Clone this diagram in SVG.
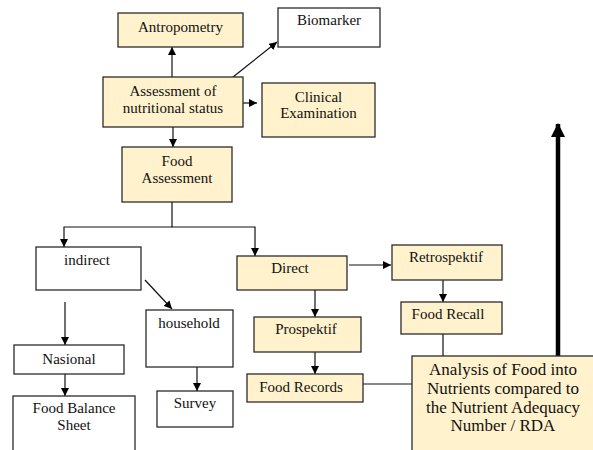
<svg xmlns="http://www.w3.org/2000/svg" width="593" height="450" viewBox="0 0 593 450" font-family="Liberation Serif, DejaVu Serif, serif">
<style>
.b{fill:#FFF2CC;stroke:#2b2b2b;stroke-width:1.3}
.w{fill:#fff;stroke:#2b2b2b;stroke-width:1.3}
text{font-family:'Liberation Serif','DejaVu Serif',serif;font-size:15px;fill:#111;text-anchor:middle}
.big{font-size:17px}
.c{fill:none;stroke:#111;stroke-width:1.2}
</style>
<defs>
<marker id="ah" markerWidth="8" markerHeight="8" refX="8" refY="4" orient="auto" markerUnits="userSpaceOnUse">
<path d="M0,0 L8,4 L0,8 Z" fill="#000"/>
</marker>
<marker id="bh" markerWidth="14" markerHeight="14" refX="13" refY="7" orient="auto" markerUnits="userSpaceOnUse">
<path d="M0,0 L14,7 L0,14 Z" fill="#000"/>
</marker>
</defs>
<rect width="593" height="450" fill="#fff"/>
<g id="connectors">
<line class="c" x1="172" y1="77" x2="172" y2="47" marker-end="url(#ah)"/>
<line class="c" x1="233" y1="77" x2="277" y2="42" marker-end="url(#ah)"/>
<line class="c" x1="233" y1="103" x2="257" y2="103" marker-end="url(#ah)"/>
<line class="c" x1="173" y1="127" x2="173" y2="147" marker-end="url(#ah)"/>
<polyline class="c" points="172,202 172,227 64,227 64,247" marker-end="url(#ah)"/>
<polyline class="c" points="172,227 255,227 255,256" marker-end="url(#ah)"/>
<line class="c" x1="349" y1="265" x2="391" y2="265" marker-end="url(#ah)"/>
<line class="c" x1="443" y1="280" x2="443" y2="302" marker-end="url(#ah)"/>
<line class="c" x1="443" y1="334" x2="443" y2="356"/>
<line class="c" x1="315" y1="290" x2="315" y2="317" marker-end="url(#ah)"/>
<line class="c" x1="315" y1="352" x2="315" y2="374" marker-end="url(#ah)"/>
<line class="c" x1="363" y1="384" x2="412" y2="384"/>
<line class="c" x1="65" y1="302" x2="65" y2="345" marker-end="url(#ah)"/>
<line class="c" x1="65" y1="374" x2="65" y2="396" marker-end="url(#ah)"/>
<line class="c" x1="145" y1="280" x2="172" y2="309" marker-end="url(#ah)"/>
<line class="c" x1="197" y1="367" x2="197" y2="391" marker-end="url(#ah)"/>
<line x1="558" y1="356" x2="558" y2="124" stroke="#000" stroke-width="4.5" marker-end="url(#bh)"/>
</g>
<g id="antropometry"><rect class="b" x="118" y="13" width="125" height="34"/><text x="180.5" y="32">Antropometry</text></g>
<g id="biomarker"><rect class="w" x="278" y="8" width="102" height="39"/><text x="329" y="25">Biomarker</text></g>
<g id="assessment"><rect class="b" x="103" y="77" width="140" height="50"/><text x="173" y="96">Assessment of</text><text x="173" y="113">nutritional status</text></g>
<g id="clinical"><rect class="b" x="262" y="83" width="113" height="54"/><text x="318.5" y="102">Clinical</text><text x="318.5" y="118">Examination</text></g>
<g id="food-assessment"><rect class="b" x="122" y="147" width="110" height="55"/><text x="177" y="166">Food</text><text x="177" y="183">Assessment</text></g>
<g id="indirect"><rect class="w" x="36" y="247" width="105" height="43"/><text x="87" y="265">indirect</text></g>
<g id="direct"><rect class="b" x="237" y="256" width="110" height="34"/><text x="290" y="273">Direct</text></g>
<g id="retrospektif"><rect class="b" x="392" y="245" width="110" height="35"/><text x="446" y="262">Retrospektif</text></g>
<g id="food-recall"><rect class="b" x="401" y="302" width="101" height="32"/><text x="448" y="319">Food Recall</text></g>
<g id="prospektif"><rect class="b" x="254" y="317" width="107" height="35"/><text x="306" y="334">Prospektif</text></g>
<g id="food-records"><rect class="b" x="247" y="374" width="116" height="28"/><text x="301" y="392">Food Records</text></g>
<g id="analysis"><rect class="b" x="412" y="356" width="184" height="100"/><text class="big" x="503" y="375">Analysis of Food into</text><text class="big" x="503" y="394">Nutrients compared to</text><text class="big" x="503" y="413">the Nutrient Adequacy</text><text class="big" x="503" y="431">Number / RDA</text></g>
<g id="nasional"><rect class="w" x="14" y="345" width="110" height="29"/><text x="69" y="364">Nasional</text></g>
<g id="food-balance-sheet"><rect class="w" x="13" y="396" width="122" height="60"/><text x="74" y="413">Food Balance</text><text x="74" y="430">Sheet</text></g>
<g id="household"><rect class="w" x="146" y="310" width="87" height="57"/><text x="189" y="328">household</text></g>
<g id="survey"><rect class="w" x="157" y="391" width="76" height="36"/><text x="195" y="408">Survey</text></g>
</svg>
